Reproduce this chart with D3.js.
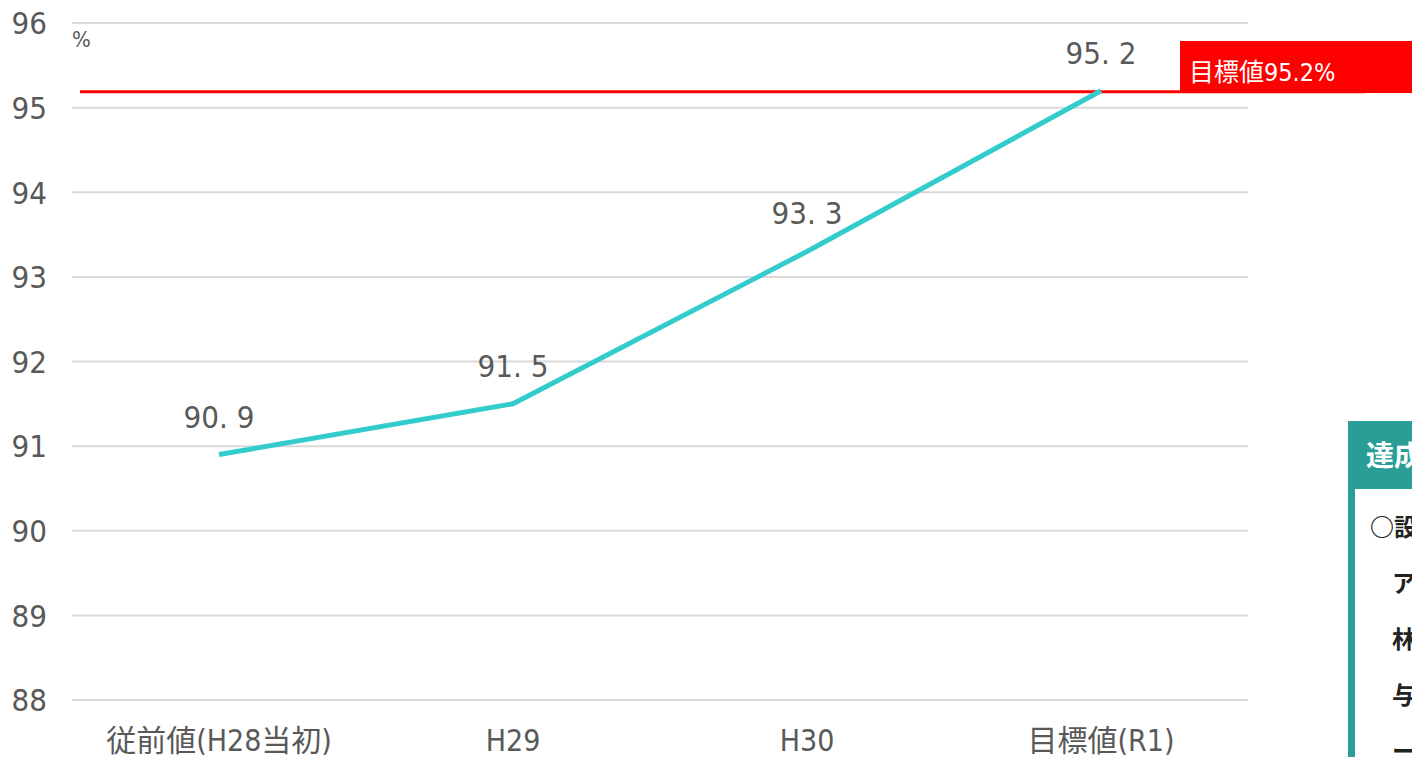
<!DOCTYPE html>
<html><head><meta charset="utf-8">
<script src="https://cdn.jsdelivr.net/npm/d3@7"></script>
<style>
html,body{margin:0;padding:0;background:#fff;overflow:hidden;}
svg{display:block;}
</style></head>
<body>
<svg id="chart" width="1412" height="757"></svg>
<script>
const categories = ["従前値(H28当初)", "H29", "H30", "目標値(R1)"];
const values = [90.9, 91.5, 93.3, 95.2];
const targetValue = 95.2;
const targetLabel = "目標値95.2%";
const yTicks = [88, 89, 90, 91, 92, 93, 94, 95, 96];
const unitLabel = "%";
const panelTitle = "達成状況";
const panelLines = ["○設定した目標の達成状況", "ア", "林", "与", "ー"];

const svg = d3.select("#chart");
const plotLeft = 72, plotRight = 1248, plotTop = 23, plotBottom = 700;
const font = '"Liberation Sans Narrow","DejaVu Sans Condensed","Noto Sans CJK JP",sans-serif';

const x = d3.scaleBand().domain(categories).range([plotLeft, plotRight]);
const y = d3.scaleLinear().domain([88, 96]).range([plotBottom, plotTop]);

// gridlines
svg.append("g").selectAll("line").data(yTicks).join("line")
  .attr("x1", plotLeft).attr("x2", plotRight)
  .attr("y1", d => y(d)).attr("y2", d => y(d))
  .attr("stroke", "#d9d9d9").attr("stroke-width", 2);

// y axis labels
const yAxis = d3.axisLeft(y).tickValues(yTicks).tickSize(0).tickPadding(0);
const gy = svg.append("g").attr("transform", "translate(47,0)").call(yAxis);
gy.select(".domain").remove();
gy.selectAll("text").attr("font-family", font).attr("font-size", 31).attr("fill", "#595959").attr("dy", "0.35em");

// x axis labels
const xAxis = d3.axisBottom(x).tickSize(0).tickPadding(0);
const gx = svg.append("g").attr("transform", "translate(0,740)").call(xAxis);
gx.select(".domain").remove();
gx.selectAll("text").attr("font-family", font).attr("font-size", 30).attr("fill", "#595959").attr("dy", "0.35em");

// unit
svg.append("text").attr("x", 72).attr("y", 47).attr("font-family", font)
  .attr("font-size", 22).attr("fill", "#595959").text(unitLabel);

// target line
svg.append("line").attr("x1", 80).attr("x2", 1365)
  .attr("y1", y(targetValue) + 1).attr("y2", y(targetValue) + 1)
  .attr("stroke", "#ff0000").attr("stroke-width", 3);

// target box
svg.append("rect").attr("x", 1180).attr("y", 41).attr("width", 240).attr("height", 52).attr("fill", "#ff0000");
svg.append("text").attr("x", 1189).attr("y", 81).attr("font-family", font)
  .attr("font-size", 25).attr("fill", "#fff").text(targetLabel);

// data line
const line = d3.line().x((d, i) => x(categories[i]) + x.bandwidth() / 2).y(d => y(d));
svg.append("path").datum(values).attr("d", line).attr("fill", "none")
  .attr("stroke", "#33cccc").attr("stroke-width", 5).attr("stroke-linejoin", "round");

// data labels
svg.append("g").selectAll("text").data(values).join("text")
  .attr("x", (d, i) => x(categories[i]) + x.bandwidth() / 2)
  .attr("y", d => y(d) - 27)
  .attr("text-anchor", "middle").attr("font-family", font)
  .attr("font-size", 31).attr("fill", "#595959")
  .text(d => d.toFixed(1).replace(".", ". "));

// side panel
const teal = "#2a9d96";
svg.append("rect").attr("x", 1348).attr("y", 421).attr("width", 80).attr("height", 68).attr("fill", teal);
svg.append("text").attr("x", 1366).attr("y", 466).attr("font-family", '"Noto Sans CJK JP",sans-serif')
  .attr("font-weight", "bold").attr("font-size", 28).attr("fill", "#fff").text(panelTitle);
svg.append("rect").attr("x", 1348).attr("y", 489).attr("width", 7).attr("height", 280).attr("fill", teal);
svg.append("g").selectAll("text").data(panelLines).join("text")
  .attr("x", (d, i) => i === 0 ? 1370 : 1392)
  .attr("y", (d, i) => 536 + i * 56)
  .attr("font-family", '"Noto Sans CJK JP",sans-serif').attr("font-weight", "bold")
  .attr("font-size", 24).attr("fill", "#222").text(d => d);
</script>
</body></html>
